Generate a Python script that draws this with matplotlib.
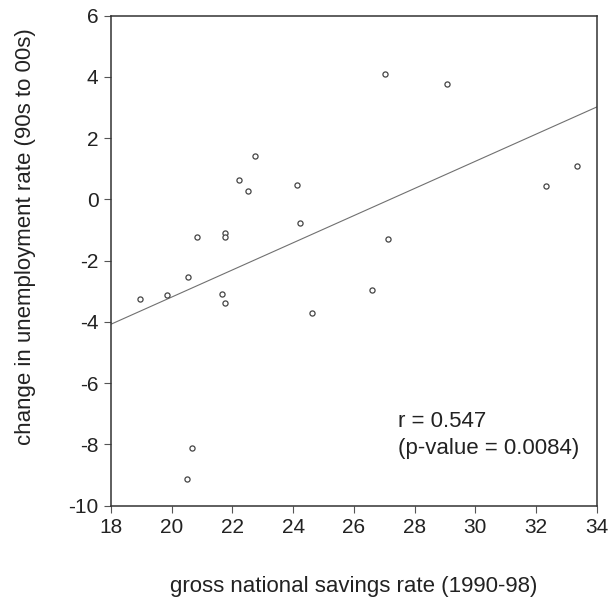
import numpy as np
import matplotlib
matplotlib.use("Agg")
import matplotlib.pyplot as plt

plt.rcParams['font.family'] = ['Liberation Sans', 'DejaVu Sans']

savings = [18.95, 19.86, 20.55, 20.84, 20.51, 20.67, 21.67, 21.74, 21.74, 21.77,
           22.21, 22.52, 22.75, 24.14, 24.22, 24.62, 26.61, 27.02, 27.13, 29.08,
           32.32, 33.36]
unemp_change = [-3.26, -3.13, -2.52, -1.22, -9.12, -8.11, -3.10, -3.39, -1.11, -1.22,
                0.62, 0.28, 1.41, 0.47, -0.78, -3.72, -2.94, 4.09, -1.30, 3.76,
                0.45, 1.10]
xticks = [18, 20, 22, 24, 26, 28, 30, 32, 34]
yticks = [-10, -8, -6, -4, -2, 0, 2, 4, 6]
annot = "r = 0.547\n(p-value = 0.0084)"

x = np.array(savings)
y = np.array(unemp_change)
slope, intercept = np.polyfit(x, y, 1)

fig = plt.figure(figsize=(6.11, 6.05), dpi=100)
ax = fig.add_axes([0.1817, 0.1641, 0.795, 0.8099])

xl = np.array([18, 34])
ax.plot(xl, intercept + slope * xl, color='#707070', lw=0.8, zorder=2)
ax.plot(x, y, linestyle='none', marker='o', markersize=3.7, markerfacecolor='white',
        markeredgecolor='#444444', markeredgewidth=0.9, zorder=3)

ax.set_xlim(18, 34)
ax.set_ylim(-10, 6)
ax.set_xticks(xticks)
ax.set_yticks(yticks)
ax.set_xticklabels([str(v) for v in xticks])
ax.set_yticklabels([str(v) for v in yticks])
ax.tick_params(direction='out', length=5, width=0.8, color='#555555', labelsize=15,
               labelcolor='#222222', pad=4)
for s in ax.spines.values():
    s.set_color('#333333')
    s.set_linewidth(1.1)

ax.set_xlabel("gross national savings rate (1990-98)", fontsize=16, color='#222222', labelpad=28)
ax.set_ylabel("change in unemployment rate (90s to 00s)", fontsize=16, color='#222222', labelpad=10)
ax.yaxis.set_label_coords(-0.155, 0.55)

ax.text(27.45, -6.9, annot, fontsize=16, color='#222222', va='top', ha='left',
        linespacing=1.4)

fig.savefig("out.png", dpi=100)
